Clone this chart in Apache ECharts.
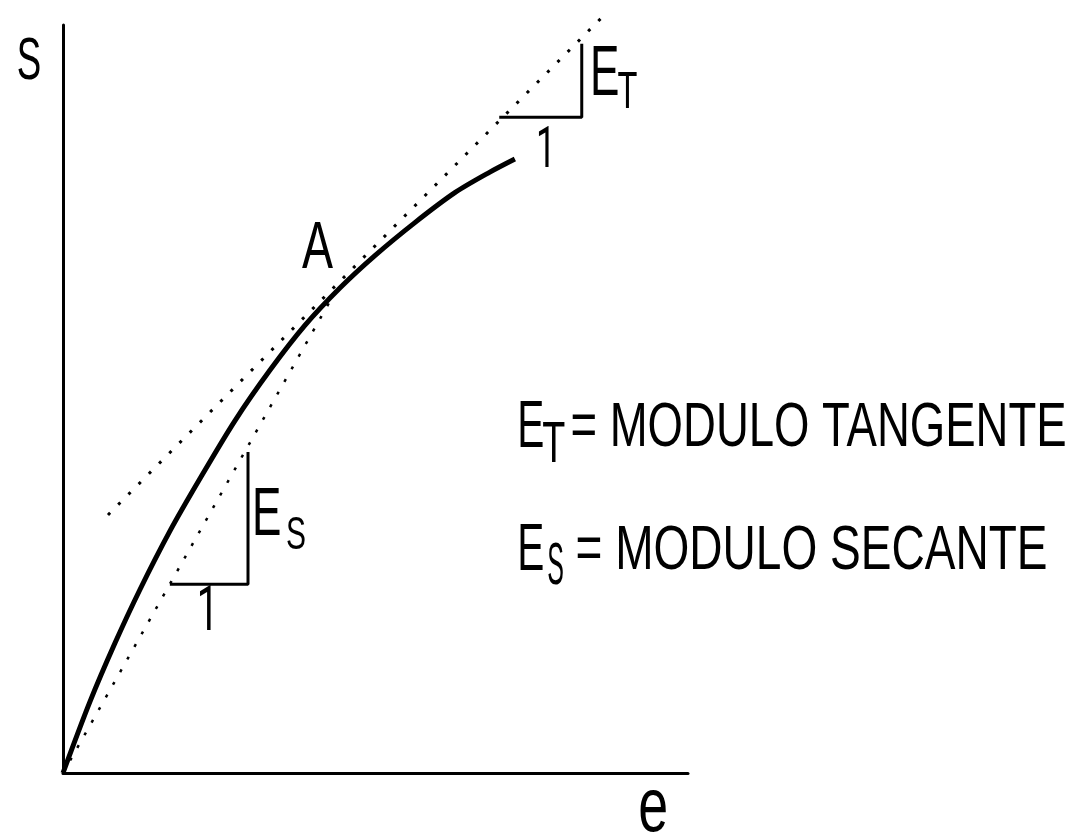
<!DOCTYPE html>
<html>
<head>
<meta charset="utf-8">
<script src="https://cdn.jsdelivr.net/npm/echarts@6/dist/echarts.min.js"></script>
<style>
  html, body { margin: 0; padding: 0; background: #fff; }
  #chart { width: 1073px; height: 833px; }
</style>
</head>
<body>
<div id="chart"></div>
<script>
// stress-strain curve (e, S)
var strain = [0, 0.43, 0.83, 1.23, 1.71, 2.19, 2.75, 3.31, 3.87, 4.43, 4.99, 5.63, 6.27, 6.83, 7.23];
var stress = [0, 1.14, 2.08, 2.94, 3.88, 4.72, 5.65, 6.46, 7.18, 7.78, 8.30, 8.83, 9.31, 9.64, 9.85];

// tangent line touching the curve at A
var tangentE = [0.72, 8.69];
var tangentS = [4.14, 12.19];

// secant line from the origin to A
var secantE = [0, 4.43];
var secantS = [0, 7.85];

// slope triangles (E_T and E_S)
var triTE = [6.98, 8.30, 8.30];
var triTS = [10.52, 10.52, 11.70];
var triSE = [1.71, 2.96, 2.96];
var triSS = [3.03, 3.03, 5.15];

function zip(a, b) {
    var out = [];
    for (var i = 0; i < a.length; i++) out.push([a[i], b[i]]);
    return out;
}

/* ---------- text labels, fitted to their box ---------- */
var FONT = "'Liberation Sans', Arial, sans-serif";
var FONT_ONE = "Roboto, 'Open Sans', sans-serif";
var ctx = document.createElement('canvas').getContext('2d');

function fitText(str, x0, y0, x1, y1, family) {
    var size = 60;
    family = family || FONT;
    ctx.font = size + 'px ' + family;
    ctx.textBaseline = 'middle';
    ctx.textAlign = 'left';
    var m = ctx.measureText(str);
    var l = -m.actualBoundingBoxLeft, r = m.actualBoundingBoxRight;
    var t = -m.actualBoundingBoxAscent, b = m.actualBoundingBoxDescent;
    var sx = (x1 - x0) / (r - l), sy = (y1 - y0) / (b - t);
    return {
        type: 'text',
        x: x0 - sx * l,
        y: y0 - sy * t,
        scaleX: sx,
        scaleY: sy,
        silent: true,
        style: {
            text: str, fontSize: size, fontFamily: family, fill: '#000',
            align: 'left', verticalAlign: 'middle'
        }
    };
}

var labels = [
    ['S', 18, 37, 40, 80],
    ['e', 640, 790, 666, 832],
    ['A', 302, 222, 333, 268],
    ['E', 593, 47, 618, 95], ['T', 618, 73, 637, 108], ['1', 539, 127, 549, 167, FONT_ONE],
    ['E', 255, 488, 280, 535], ['S', 287, 517, 305, 550], ['1', 200, 586, 211, 630, FONT_ONE],
    ['E', 520, 402, 543, 447], ['T', 543, 423, 565, 462], ['= MODULO TANGENTE', 572, 402, 1065, 447],
    ['E', 520, 525, 543, 570], ['S', 548, 543, 563, 585], ['= MODULO SECANTE', 577, 525, 1046, 570]
];

var chart = echarts.init(document.getElementById('chart'));

var dotted = function (w) {
    return { color: '#000', width: w, type: [3, 11.5], cap: 'butt' };
};

var option = {
    animation: false,
    backgroundColor: '#fff',
    grid: { left: 63, top: 25, width: 625, height: 748 },
    xAxis: {
        type: 'value', min: 0, max: 10,
        axisLine: { show: true, onZero: false, lineStyle: { color: '#000', width: 3 } },
        axisTick: { show: false },
        axisLabel: { show: false },
        splitLine: { show: false }
    },
    yAxis: {
        type: 'value', min: 0, max: 12,
        axisLine: { show: true, onZero: false, lineStyle: { color: '#000', width: 3 } },
        axisTick: { show: false },
        axisLabel: { show: false },
        splitLine: { show: false }
    },
    series: [
        {
            name: 'curva',
            type: 'line',
            data: zip(strain, stress),
            smooth: 0.3,
            showSymbol: false,
            lineStyle: { color: '#000', width: 5 }
        },
        {
            name: 'tangente',
            type: 'line',
            data: zip(tangentE, tangentS),
            clip: false,
            showSymbol: false,
            lineStyle: dotted(3)
        },
        {
            name: 'secante',
            type: 'line',
            data: zip(secantE, secantS),
            showSymbol: false,
            lineStyle: dotted(2.5)
        },
        {
            name: 'ET',
            type: 'line',
            data: zip(triTE, triTS),
            showSymbol: false,
            lineStyle: { color: '#000', width: 3 }
        },
        {
            name: 'ES',
            type: 'line',
            data: zip(triSE, triSS),
            showSymbol: false,
            lineStyle: { color: '#000', width: 3 }
        }
    ],
    graphic: labels.map(function (d) {
        return fitText(d[0], d[1], d[2], d[3], d[4], d[5]);
    })
};

chart.setOption(option);
</script>
</body>
</html>
